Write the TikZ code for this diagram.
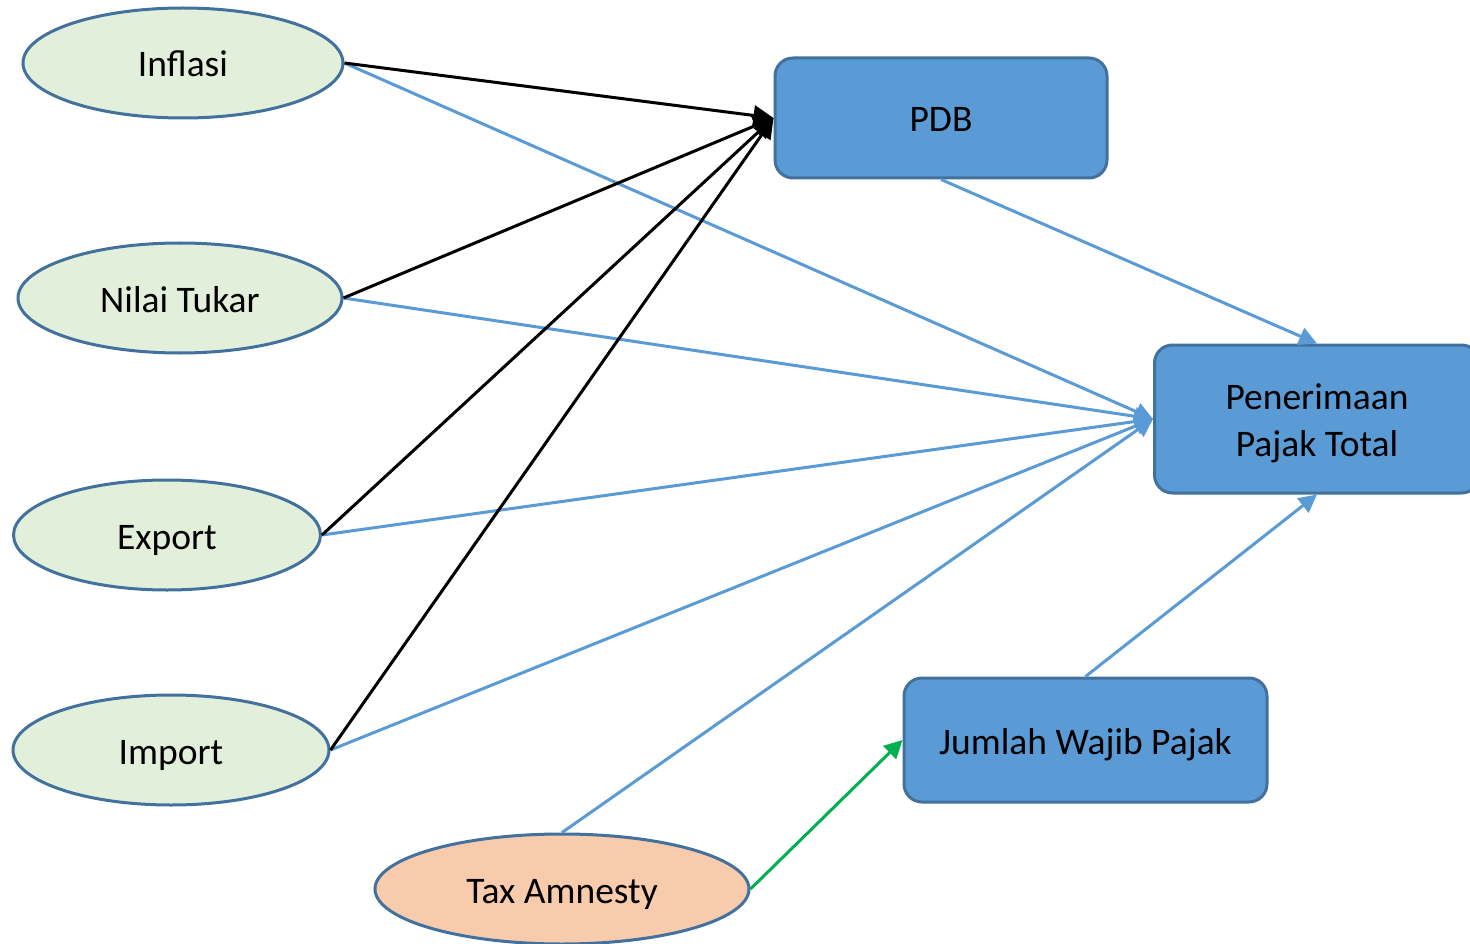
\documentclass[tikz,border=0pt]{standalone}
\usepackage{fontspec}
\setmainfont{Carlito}
\usetikzlibrary{shapes.geometric,arrows.meta}
\definecolor{ovalfill}{HTML}{E2EFDA}
\definecolor{peachfill}{HTML}{F8CBAD}
\definecolor{boxfill}{HTML}{5B9BD5}
\definecolor{edgeline}{HTML}{41719C}
\definecolor{bluelink}{HTML}{5B9BD5}
\definecolor{greenlink}{HTML}{00B050}
\tikzset{
  labelfont/.style={font=\fontsize{37.5}{47}\selectfont},
  oneline/.style={text height=28pt, text depth=0pt},
  oval/.style={ellipse, draw=edgeline, line width=3pt, fill=ovalfill, inner sep=0pt,
               labelfont, oneline},
  taxoval/.style={oval, fill=peachfill},
  varbox/.style={rectangle, rounded corners=18pt, draw=edgeline, line width=3pt, fill=boxfill,
                 inner sep=0pt, align=center, labelfont},
  blacklink/.style={draw=black, line width=3pt, -{Triangle[length=20pt,width=20pt]}},
  bluearrow/.style={draw=bluelink, line width=3pt, -{Triangle[length=18pt,width=18pt]}},
  greenarrow/.style={draw=greenlink, line width=3pt, -{Triangle[length=18pt,width=18pt]}}
}
\begin{document}
\begin{tikzpicture}[x=1pt, y=-1pt]
  \useasboundingbox (0,0) rectangle (1470,944);
  \clip (0,0) rectangle (1470,944);

  % independent variables
  \node[oval, minimum width=320pt, minimum height=110pt] (inf) at (183,63) {Inflasi};
  \node[oval, minimum width=324pt, minimum height=110pt] (nt)  at (180,298) {Nilai Tukar};
  \node[oval, minimum width=307pt, minimum height=110pt] (exp) at (167,535) {Export};
  \node[oval, minimum width=316pt, minimum height=110pt] (imp) at (171,750) {Import};
  \node[taxoval, minimum width=374pt, minimum height=110pt] (tax) at (562,889) {Tax Amnesty};

  % intermediate and outcome variables
  \node[varbox, oneline, minimum width=332pt, minimum height=120pt] (pdb) at (941,118) {PDB};
  \node[varbox, text height=74pt, text depth=0pt, minimum width=325pt, minimum height=148pt]
    (pen) at (1317,419) {Penerimaan\\Pajak Total};
  \node[varbox, oneline, minimum width=363pt, minimum height=124pt] (jwp) at (1085.5,740) {Jumlah Wajib Pajak};

  % direct effects on total tax revenue
  \draw[bluearrow] (inf.east) -- (pen.west);
  \draw[bluearrow] (nt.east) -- (pen.west);
  \draw[bluearrow] (exp.east) -- (pen.west);
  \draw[bluearrow] (imp.east) -- (pen.west);
  \draw[bluearrow] (tax.north) -- (pen.west);
  \draw[bluearrow] (pdb.south) -- (pen.north);
  \draw[bluearrow] (jwp.north) -- (pen.south);

  % effects on GDP
  \draw[blacklink] (inf.east) -- (pdb.west);
  \draw[blacklink] (nt.east) -- (pdb.west);
  \draw[blacklink] (exp.east) -- (pdb.west);
  \draw[blacklink] (imp.east) -- (pdb.west);

  % tax amnesty on number of taxpayers
  \draw[greenarrow] (tax.east) -- (jwp.west);
\end{tikzpicture}
\end{document}
